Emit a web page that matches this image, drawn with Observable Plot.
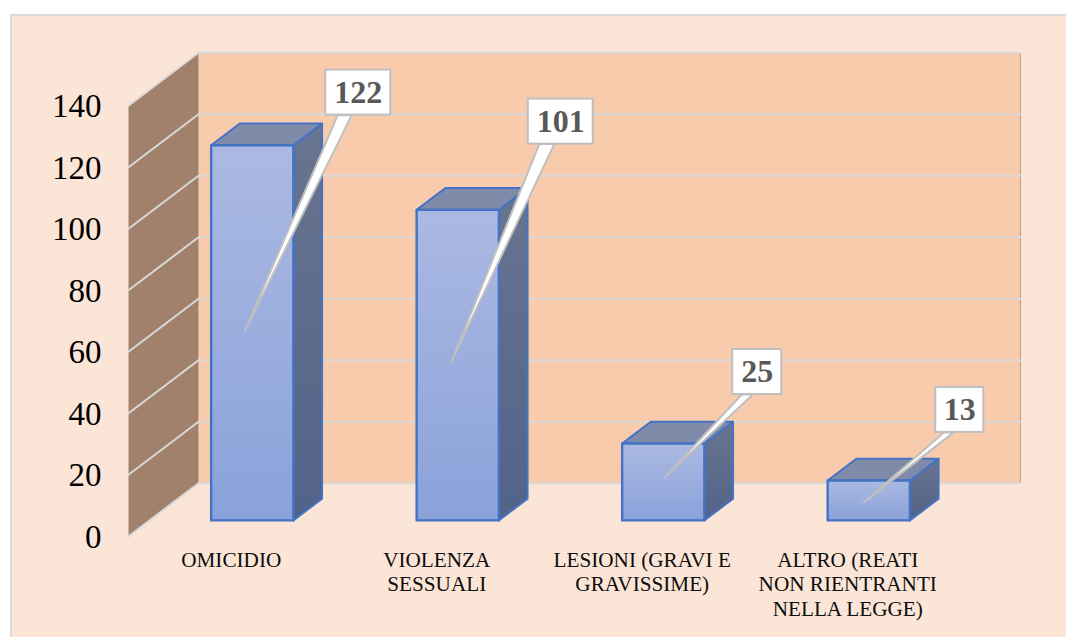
<!DOCTYPE html>
<html lang="it">
<head>
<meta charset="utf-8">
<script src="https://cdn.jsdelivr.net/npm/d3@7"></script>
<script src="https://cdn.jsdelivr.net/npm/@observablehq/plot@0.6"></script>
<style>
  html, body { margin: 0; padding: 0; background: #fff; overflow: hidden; }
  #panel {
    position: absolute; left: 10px; top: 14px; right: -4px; bottom: -4px;
    background: #fbe5d6; border: 2px solid #dedad7;
  }
  #chart { position: absolute; left: 0; top: 0; }
</style>
</head>
<body>
<div id="panel"></div>
<div id="chart"></div>
<script>
const categories = [
  "OMICIDIO",
  "VIOLENZA\nSESSUALI",
  "LESIONI (GRAVI E\nGRAVISSIME)",
  "ALTRO (REATI\nNON RIENTRANTI\nNELLA LEGGE)"
];
const counts = [122, 101, 25, 13];
const valueTicks = [0, 20, 40, 60, 80, 100, 120, 140];

// Scale layout of the front plane of the oblique 3D box
const xRange = [128, 950];
const yRange = [535.8, 105.3];
const xDomain = [-0.5, 3.5];
const yDomain = [0, 140];
const pxPerCategory = (xRange[1] - xRange[0]) / (xDomain[1] - xDomain[0]);
const pxPerUnit = (yRange[0] - yRange[1]) / (yDomain[1] - yDomain[0]);

// The rear of the box sits 70px right and 53px up from the front
const depthX = 70 / pxPerCategory;
const depthY = 53 / pxPerUnit;
const project = (cat, value, depth) => ({x: cat + depth * depthX, y: value + depth * depthY});

// Bars occupy the middle of the depth and 40% of a category's width
const barHalf = 0.2, depthFront = 0.3, depthBack = 0.71;

function face(bar, corners) {
  return corners.map(([cat, value, depth]) => ({bar, ...project(cat, value, depth)}));
}
const frontFaces = counts.flatMap((v, i) => face(i, [
  [i - barHalf, 0, depthFront], [i + barHalf, 0, depthFront],
  [i + barHalf, v, depthFront], [i - barHalf, v, depthFront]
]));
const sideFaces = counts.flatMap((v, i) => face(i, [
  [i + barHalf, 0, depthFront], [i + barHalf, 0, depthBack],
  [i + barHalf, v, depthBack], [i + barHalf, v, depthFront]
]));
const topFaces = counts.flatMap((v, i) => face(i, [
  [i - barHalf, v, depthFront], [i + barHalf, v, depthFront],
  [i + barHalf, v, depthBack], [i - barHalf, v, depthBack]
]));

const [x0, x1] = xDomain, [v0, v1] = yDomain;
const backWall = face(0, [[x0, v0, 1], [x1, v0, 1], [x1, v1, 1], [x0, v1, 1]]);
const sideWall = face(0, [[x0, v0, 0], [x0, v0, 1], [x0, v1, 1], [x0, v1, 0]]);
const rearEdge = face(0, [[x1, v0, 1], [x1, v1, 1]]);
const gridLines = valueTicks.flatMap(t => face(t, [[x0, t, 0], [x0, t, 1], [x1, t, 1]]));

// Data callouts: offsets in pixels from the middle of each bar's front face
const calloutTip = [[-7.5, -1.7], [-6.5, -3], [1.5, -4.6], [-5, 2]];
const calloutBox = [[106, -240.2], [103, -243.5], [94, -110], [91, -90.5]];
const calloutBase = [[-20.5, -6.5], [-21.5, -6.5], [-15.5, -4.5], [-16, -6]];
const boxWidths = [65, 65, 49, 48];
const boxHeight = 45;

const callouts = counts.map((v, i) => {
  const mid = project(i, v / 2, depthFront);
  const at = (dx, dy) => ({x: mid.x + dx / pxPerCategory, y: mid.y - dy / pxPerUnit});
  const [bx, by] = calloutBox[i];
  const center = at(bx, by);
  const bottom = by + boxHeight / 2;
  return {
    label: String(v),
    center,
    x1: center.x - boxWidths[i] / 2 / pxPerCategory,
    x2: center.x + boxWidths[i] / 2 / pxPerCategory,
    y1: center.y - boxHeight / 2 / pxPerUnit,
    y2: center.y + boxHeight / 2 / pxPerUnit,
    wedge: [at(bx + calloutBase[i][0], bottom), at(bx + calloutBase[i][1], bottom), at(...calloutTip[i])]
      .map(p => ({bar: i, ...p}))
  };
});

const gradients = () => {
  const defs = d3.create("svg:defs");
  const add = (id, top, bottom) => {
    const g = defs.append("linearGradient").attr("id", id)
      .attr("x1", 0).attr("y1", 0).attr("x2", 0).attr("y2", 1);
    g.append("stop").attr("offset", "0%").attr("stop-color", top);
    g.append("stop").attr("offset", "100%").attr("stop-color", bottom);
  };
  add("barFront", "#abb9e2", "#8aa2da");
  add("barSide", "#687590", "#526388");
  return defs.node();
};

const serif = "'Liberation Serif', 'Times New Roman', serif";

const chart = Plot.plot({
  width: 1066,
  height: 637,
  marginLeft: xRange[0],
  marginRight: 1066 - xRange[1],
  marginTop: yRange[1],
  marginBottom: 637 - yRange[0],
  style: {background: "transparent", fontFamily: serif},
  x: {domain: xDomain, axis: null},
  y: {domain: yDomain, axis: null},
  marks: [
    gradients,
    Plot.line(backWall, {x: "x", y: "y", fill: "#f8cbad", curve: "linear-closed"}),
    Plot.line(sideWall, {x: "x", y: "y", fill: "#a1816b", curve: "linear-closed"}),
    Plot.line(rearEdge, {x: "x", y: "y", stroke: "#c9a48c", strokeWidth: 1.2}),
    Plot.line(gridLines, {x: "x", y: "y", z: "bar", stroke: "#d9d9d9", strokeWidth: 2, strokeLinejoin: "miter"}),
    Plot.axisY(valueTicks, {
      anchor: "left", tickSize: 0, tickPadding: 27, label: null,
      fontSize: 33, fill: "#000", dy: 1
    }),
    Plot.axisX(d3.range(categories.length), {
      anchor: "bottom", tickSize: 0, tickPadding: 13, label: null,
      tickFormat: i => categories[i], lineAnchor: "top", lineHeight: 1.16,
      fontSize: 21.2, fill: "#0d0d0d"
    }),
    Plot.line(sideFaces, {x: "x", y: "y", z: "bar", fill: "url(#barSide)", stroke: "#4472c4", strokeWidth: 2, curve: "linear-closed"}),
    Plot.line(topFaces, {x: "x", y: "y", z: "bar", fill: "#7f8ba8", stroke: "#4472c4", strokeWidth: 2, curve: "linear-closed"}),
    Plot.line(frontFaces, {x: "x", y: "y", z: "bar", fill: "url(#barFront)", stroke: "#4472c4", strokeWidth: 2.4, curve: "linear-closed"}),
    Plot.line(callouts.flatMap(c => c.wedge), {x: "x", y: "y", z: "bar", fill: "#fff", stroke: "#bfbfbf", strokeWidth: 2, curve: "linear-closed"}),
    Plot.rect(callouts, {x1: "x1", x2: "x2", y1: "y1", y2: "y2", fill: "#fff", stroke: "#bfbfbf", strokeWidth: 2}),
    Plot.text(callouts, {
      x: c => c.center.x, y: c => c.center.y, text: "label",
      fontSize: 32, fontWeight: "bold", fill: "#595959"
    })
  ]
});
document.getElementById("chart").appendChild(chart);
</script>
</body>
</html>
